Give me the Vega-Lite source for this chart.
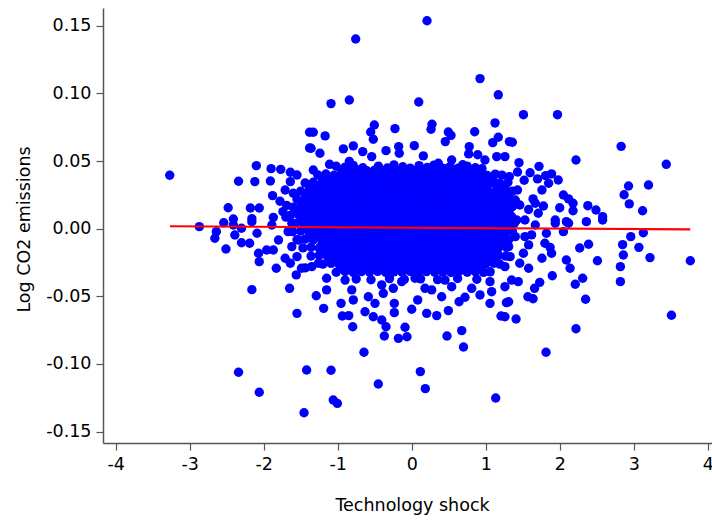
{
  "$schema": "https://vega.github.io/schema/vega-lite/v6.json",
  "width": 609,
  "height": 435,
  "autosize": {"type": "none"},
  "padding": {"left": 103, "top": 8, "right": 0, "bottom": 80},
  "background": "white",
  "config": {
    "view": {"stroke": null},
    "axis": {
      "grid": false,
      "domainColor": "#555555",
      "domainWidth": 1.5,
      "tickColor": "#555555",
      "tickWidth": 1.2,
      "tickSize": 7,
      "labelFont": "DejaVu Sans",
      "labelFontSize": 17.5,
      "labelColor": "#000000",
      "labelFlush": false,
      "labelOverlap": false,
      "titleFont": "DejaVu Sans",
      "titleFontSize": 17.5,
      "titleFontWeight": "normal",
      "titleColor": "#000000"
    }
  },
  "datasets": {
    "shocks": [
      {"x":-3.27,"y":0.0395},{"x":-2.10,"y":0.0466},{"x":-1.90,"y":0.0444},{"x":-1.77,"y":0.0439},{"x":-1.64,"y":0.0417},
      {"x":-1.55,"y":0.0397},{"x":-2.34,"y":0.0351},{"x":-2.12,"y":0.0348},{"x":-1.91,"y":0.0353},{"x":-1.64,"y":0.0348},
      {"x":-1.38,"y":0.0713},{"x":-1.38,"y":0.0597},{"x":-2.48,"y":0.0155},{"x":-2.18,"y":0.0153},{"x":-2.06,"y":0.0153},
      {"x":-2.16,"y":0.0074},{"x":-2.41,"y":0.0072},{"x":-2.54,"y":0.0044},{"x":-2.87,"y":0.0015},{"x":-1.88,"y":0.0244},
      {"x":-1.78,"y":0.0203},{"x":-1.71,"y":0.0286},{"x":-1.60,"y":0.0262},{"x":-1.87,"y":0.0084},{"x":-1.74,"y":0.0126},
      {"x":-2.64,"y":-0.0022},{"x":-2.66,"y":-0.0071},{"x":-2.51,"y":-0.0150},{"x":-2.41,"y":0.0027},{"x":-2.30,"y":0.0003},
      {"x":-2.39,"y":-0.0047},{"x":-2.30,"y":-0.0104},{"x":-2.19,"y":-0.0108},{"x":-2.09,"y":-0.0034},{"x":-2.16,"y":0.0052},
      {"x":-1.89,"y":0.0027},{"x":-2.07,"y":-0.0182},{"x":-2.06,"y":-0.0244},{"x":-1.96,"y":-0.0158},{"x":-1.87,"y":-0.0158},
      {"x":-1.80,"y":-0.0084},{"x":-1.71,"y":-0.0219},{"x":-1.83,"y":-0.0293},{"x":-1.56,"y":-0.0342},{"x":-1.49,"y":-0.0293},
      {"x":-1.64,"y":-0.0256},{"x":-1.55,"y":-0.0207},{"x":-1.62,"y":-0.0133},{"x":-1.53,"y":-0.0084},{"x":-1.67,"y":-0.0022},
      {"x":-1.62,"y":0.0040},{"x":-2.16,"y":-0.0451},{"x":-1.65,"y":-0.0441},{"x":-1.55,"y":-0.0626},{"x":-2.34,"y":-0.1062},
      {"x":-2.06,"y":-0.1210},{"x":-1.455,"y":-0.1361},{"x":-1.42,"y":-0.1045},{"x":-1.09,"y":-0.1047},{"x":-1.06,"y":-0.1267},
      {"x":-1.005,"y":-0.1292},{"x":-0.451,"y":-0.1149},{"x":0.117,"y":-0.1057},{"x":0.184,"y":-0.1183},{"x":1.135,"y":-0.1252},
      {"x":-0.645,"y":-0.0914},{"x":-0.37,"y":-0.0794},{"x":-0.18,"y":-0.0811},{"x":-0.064,"y":-0.0799},{"x":-0.09,"y":-0.0729},
      {"x":-0.347,"y":-0.0725},{"x":0.477,"y":-0.0794},{"x":0.70,"y":-0.0875},{"x":0.676,"y":-0.0754},{"x":-0.797,"y":-0.0725},
      {"x":-0.938,"y":-0.0646},{"x":-0.851,"y":-0.0643},{"x":-1.19,"y":-0.0589},{"x":-1.29,"y":-0.0496},{"x":-0.955,"y":-0.0552},
      {"x":-0.631,"y":-0.0614},{"x":-0.519,"y":-0.0651},{"x":-0.405,"y":-0.0675},{"x":-0.235,"y":-0.0621},{"x":-0.235,"y":-0.0552},
      {"x":0.0,"y":-0.0596},{"x":0.081,"y":-0.0527},{"x":0.203,"y":-0.0626},{"x":0.338,"y":-0.0643},{"x":0.495,"y":-0.0606},
      {"x":0.64,"y":-0.0540},{"x":0.72,"y":-0.0507},{"x":0.923,"y":-0.0490},{"x":1.058,"y":-0.0552},{"x":1.207,"y":-0.0646},
      {"x":1.28,"y":-0.0547},{"x":1.058,"y":-0.0392},{"x":0.81,"y":-0.0441},{"x":-1.15,"y":-0.0367},{"x":-1.15,"y":-0.0453},
      {"x":-0.90,"y":-0.0380},{"x":-0.81,"y":-0.0453},{"x":-0.789,"y":-0.0527},{"x":-0.586,"y":-0.0503},{"x":-0.496,"y":-0.0552},
      {"x":-0.249,"y":-0.0441},{"x":-0.384,"y":-0.0478},{"x":0.045,"y":-0.0367},{"x":0.27,"y":-0.0453},{"x":0.405,"y":-0.0503},
      {"x":0.54,"y":-0.0429},{"x":-1.35,"y":-0.0281},{"x":-1.26,"y":-0.0256},{"x":-1.44,"y":-0.0290},{"x":-1.01,"y":-0.0195},
      {"x":-0.72,"y":-0.0281},{"x":-0.405,"y":-0.0416},{"x":-0.135,"y":-0.0392},{"x":0.18,"y":-0.0441},{"x":0.45,"y":-0.0380},
      {"x":1.26,"y":-0.0429},{"x":1.08,"y":-0.0466},
      {"x":0.207,"y":0.1538},{"x":-0.757,"y":0.1403},{"x":0.923,"y":0.1110},{"x":1.17,"y":0.0990},{"x":-1.09,"y":0.0925},
      {"x":-0.843,"y":0.0952},{"x":0.095,"y":0.0937},{"x":-1.33,"y":0.0713},{"x":-1.17,"y":0.0686},{"x":-1.36,"y":0.0595},
      {"x":-0.505,"y":0.0767},{"x":-0.554,"y":0.0715},{"x":-0.519,"y":0.0661},{"x":-0.226,"y":0.0740},{"x":0.274,"y":0.0772},
      {"x":0.261,"y":0.0735},{"x":0.495,"y":0.0715},{"x":0.531,"y":0.0690},{"x":0.454,"y":0.0644},{"x":0.851,"y":0.0717},
      {"x":1.126,"y":0.0782},{"x":1.17,"y":0.0676},{"x":1.095,"y":0.0636},{"x":1.32,"y":0.0644},{"x":-0.924,"y":0.0590},
      {"x":-0.789,"y":0.0612},{"x":-0.662,"y":0.0570},{"x":-0.347,"y":0.0577},{"x":-0.176,"y":0.0607},{"x":0.035,"y":0.0614},
      {"x":0.157,"y":0.0538},{"x":0.778,"y":0.0607},{"x":0.77,"y":0.0553},{"x":0.892,"y":0.0547},{"x":-1.24,"y":0.0558},
      {"x":-1.11,"y":0.0476},{"x":-0.843,"y":0.0498},{"x":-0.541,"y":0.0533},{"x":-0.168,"y":0.0558},{"x":0.36,"y":0.0484},
      {"x":0.54,"y":0.0508},{"x":0.689,"y":0.0473},{"x":0.99,"y":0.0508},{"x":1.149,"y":0.0533},{"x":1.26,"y":0.0533},
      {"x":1.01,"y":0.0303},{"x":-1.33,"y":0.0434},
      {"x":1.51,"y":0.0843},{"x":1.97,"y":0.0843},{"x":1.36,"y":0.0639},{"x":2.83,"y":0.0609},{"x":3.44,"y":0.0476},
      {"x":2.22,"y":0.0508},{"x":1.45,"y":0.0488},{"x":1.72,"y":0.0461},{"x":1.43,"y":0.0419},{"x":1.60,"y":0.0414},
      {"x":1.81,"y":0.0392},{"x":1.89,"y":0.0405},{"x":1.98,"y":0.0360},{"x":1.52,"y":0.0358},{"x":1.70,"y":0.0368},
      {"x":1.32,"y":0.0385},{"x":1.85,"y":0.0336},{"x":1.76,"y":0.0286},{"x":1.43,"y":0.0286},{"x":2.05,"y":0.0249},
      {"x":2.12,"y":0.0220},{"x":2.18,"y":0.0188},{"x":1.64,"y":0.0220},{"x":1.67,"y":0.0188},{"x":1.40,"y":0.0212},
      {"x":1.46,"y":0.0175},{"x":1.78,"y":0.0168},{"x":2.00,"y":0.0155},{"x":2.18,"y":0.0133},{"x":2.38,"y":0.0170},
      {"x":2.49,"y":0.0138},{"x":2.58,"y":0.0089},{"x":2.93,"y":0.0316},{"x":3.20,"y":0.0323},{"x":2.87,"y":0.0251},
      {"x":2.94,"y":0.0183},{"x":3.12,"y":0.0133},{"x":2.36,"y":0.0052},{"x":1.71,"y":0.0114},{"x":1.94,"y":0.0064},
      {"x":2.09,"y":0.0052},{"x":1.53,"y":0.0064},{"x":1.35,"y":0.0089},
      {"x":3.13,"y":-0.0030},{"x":2.96,"y":-0.0059},{"x":2.85,"y":-0.0118},{"x":3.07,"y":-0.0138},{"x":3.22,"y":-0.0214},
      {"x":3.765,"y":-0.0237},{"x":2.86,"y":-0.0195},{"x":2.82,"y":-0.0281},{"x":2.82,"y":-0.0392},{"x":3.51,"y":-0.0640},
      {"x":2.51,"y":-0.0237},{"x":2.39,"y":-0.0115},{"x":2.27,"y":-0.0143},{"x":2.58,"y":0.0064},{"x":2.09,"y":-0.0232},
      {"x":2.14,"y":-0.0293},{"x":2.31,"y":-0.0367},{"x":2.21,"y":-0.0411},{"x":2.35,"y":-0.0522},{"x":2.22,"y":-0.0740},
      {"x":1.815,"y":-0.0914},{"x":1.41,"y":-0.0668},{"x":1.90,"y":-0.0348},{"x":1.73,"y":-0.0397},{"x":1.66,"y":-0.0441},
      {"x":1.57,"y":-0.0503},{"x":1.64,"y":-0.0518},{"x":1.31,"y":-0.0540},{"x":1.26,"y":-0.0651},{"x":1.76,"y":-0.0219},
      {"x":1.89,"y":-0.0182},{"x":1.80,"y":-0.0108},{"x":1.87,"y":-0.0138},{"x":1.58,"y":-0.0120},{"x":1.51,"y":-0.0182},
      {"x":1.46,"y":-0.0256},{"x":1.58,"y":-0.0293},{"x":1.44,"y":-0.0392},{"x":1.35,"y":-0.0380},{"x":1.26,"y":-0.0281},
      {"x":1.33,"y":-0.0207},{"x":1.82,"y":-0.0034},{"x":2.05,"y":-0.0022},{"x":2.12,"y":0.0040},{"x":1.94,"y":0.0040},
      {"x":1.67,"y":0.0027},{"x":1.40,"y":-0.0059},{"x":1.53,"y":-0.0059},{"x":1.31,"y":-0.0133},{"x":1.42,"y":0.0064},
      {"x":1.58,"y":0.0142},{"x":1.62,"y":-0.0046},{"x":-1.70,"y":0.0085},{"x":-1.69,"y":0.0172},
      {"x":-1.02,"y":0.0462},{"x":-0.90,"y":0.0455},{"x":-0.79,"y":0.0468},{"x":-0.66,"y":0.0451},{"x":-0.45,"y":0.0463},
      {"x":-0.33,"y":0.0449},{"x":-0.24,"y":0.0472},{"x":-0.12,"y":0.0458},{"x":-0.02,"y":0.0447},{"x":0.10,"y":0.0466},
      {"x":0.21,"y":0.0452},{"x":0.30,"y":0.0470},{"x":0.43,"y":0.0446},{"x":0.52,"y":0.0459},{"x":0.63,"y":0.0448},
      {"x":0.75,"y":0.0463},{"x":0.86,"y":0.0451},{"x":0.95,"y":0.0444},
      {"x":-1.27,"y":0.0398},{"x":-1.16,"y":0.0404},{"x":-1.05,"y":0.0395},{"x":-0.95,"y":0.0407},{"x":-0.84,"y":0.0399},
      {"x":-0.72,"y":0.0403},{"x":-0.62,"y":0.0394},{"x":-0.51,"y":0.0406},{"x":-0.40,"y":0.0397},{"x":-0.29,"y":0.0402},
      {"x":-0.18,"y":0.0409},{"x":-0.07,"y":0.0396},{"x":0.04,"y":0.0401},{"x":0.15,"y":0.0393},{"x":0.26,"y":0.0405},
      {"x":0.37,"y":0.0398},{"x":0.48,"y":0.0402},{"x":0.58,"y":0.0395},{"x":0.69,"y":0.0404},{"x":0.80,"y":0.0397},
      {"x":0.91,"y":0.0401},{"x":1.02,"y":0.0394},{"x":1.13,"y":0.0403},{"x":1.22,"y":0.0396},
      {"x":-1.44,"y":0.0338},{"x":-1.33,"y":0.0343},{"x":-1.21,"y":0.0336},{"x":-1.10,"y":0.0345},{"x":-1.00,"y":0.0339},
      {"x":-0.89,"y":0.0342},{"x":-0.78,"y":0.0335},{"x":-0.67,"y":0.0344},{"x":-0.56,"y":0.0338},{"x":-0.45,"y":0.0341},
      {"x":-0.34,"y":0.0334},{"x":-0.23,"y":0.0343},{"x":-0.12,"y":0.0337},{"x":-0.01,"y":0.0342},{"x":0.10,"y":0.0336},
      {"x":0.21,"y":0.0344},{"x":0.32,"y":0.0339},{"x":0.43,"y":0.0341},{"x":0.53,"y":0.0335},{"x":0.64,"y":0.0343},
      {"x":0.75,"y":0.0338},{"x":0.86,"y":0.0342},{"x":0.97,"y":0.0336},{"x":1.08,"y":0.0341},{"x":1.19,"y":0.0337},
      {"x":1.30,"y":0.0343},
      {"x":-1.50,"y":0.0278},{"x":-1.38,"y":0.0283},{"x":-1.27,"y":0.0276},{"x":-1.16,"y":0.0282},{"x":-1.05,"y":0.0279},
      {"x":-0.95,"y":0.0284},{"x":-0.84,"y":0.0277},{"x":-0.73,"y":0.0281},{"x":-0.62,"y":0.0275},{"x":-0.51,"y":0.0283},
      {"x":-0.40,"y":0.0278},{"x":-0.29,"y":0.0282},{"x":-0.18,"y":0.0276},{"x":-0.07,"y":0.0284},{"x":0.04,"y":0.0279},
      {"x":0.15,"y":0.0281},{"x":0.26,"y":0.0277},{"x":0.37,"y":0.0283},{"x":0.48,"y":0.0278},{"x":0.59,"y":0.0282},
      {"x":0.70,"y":0.0276},{"x":0.81,"y":0.0281},{"x":0.92,"y":0.0279},{"x":1.03,"y":0.0284},{"x":1.14,"y":0.0277},
      {"x":1.25,"y":0.0282},{"x":1.36,"y":0.0278},
      {"x":-1.55,"y":0.0218},{"x":-1.44,"y":0.0223},{"x":-1.33,"y":0.0217},{"x":-1.22,"y":0.0222},{"x":-1.11,"y":0.0219},
      {"x":-1.00,"y":0.0224},{"x":-0.89,"y":0.0216},{"x":-0.78,"y":0.0221},{"x":-0.67,"y":0.0218},{"x":-0.56,"y":0.0223},
      {"x":-0.45,"y":0.0217},{"x":-0.34,"y":0.0222},{"x":-0.23,"y":0.0219},{"x":-0.12,"y":0.0221},{"x":-0.01,"y":0.0216},
      {"x":0.10,"y":0.0223},{"x":0.21,"y":0.0218},{"x":0.32,"y":0.0222},{"x":0.43,"y":0.0217},{"x":0.54,"y":0.0221},
      {"x":0.65,"y":0.0219},{"x":0.76,"y":0.0224},{"x":0.87,"y":0.0218},{"x":0.98,"y":0.0221},{"x":1.09,"y":0.0217},
      {"x":1.20,"y":0.0222},{"x":1.31,"y":0.0219},
      {"x":-1.60,"y":0.0158},{"x":-1.49,"y":0.0163},{"x":-1.38,"y":0.0157},{"x":-1.27,"y":0.0162},{"x":-1.16,"y":0.0159},
      {"x":-1.05,"y":0.0164},{"x":-0.95,"y":0.0156},{"x":-0.84,"y":0.0161},{"x":-0.73,"y":0.0158},{"x":-0.62,"y":0.0163},
      {"x":-0.51,"y":0.0157},{"x":-0.40,"y":0.0162},{"x":-0.29,"y":0.0159},{"x":-0.18,"y":0.0161},{"x":-0.07,"y":0.0156},
      {"x":0.04,"y":0.0163},{"x":0.15,"y":0.0158},{"x":0.26,"y":0.0162},{"x":0.37,"y":0.0157},{"x":0.48,"y":0.0161},
      {"x":0.59,"y":0.0159},{"x":0.70,"y":0.0164},{"x":0.81,"y":0.0158},{"x":0.92,"y":0.0161},{"x":1.03,"y":0.0157},
      {"x":1.14,"y":0.0162},{"x":1.25,"y":0.0159},{"x":1.36,"y":0.0163},
      {"x":-1.64,"y":0.0098},{"x":-1.53,"y":0.0103},{"x":-1.42,"y":0.0097},{"x":-1.31,"y":0.0102},{"x":-1.20,"y":0.0099},
      {"x":-1.09,"y":0.0104},{"x":-0.98,"y":0.0096},{"x":-0.87,"y":0.0101},{"x":-0.76,"y":0.0098},{"x":-0.65,"y":0.0103},
      {"x":-0.54,"y":0.0097},{"x":-0.43,"y":0.0102},{"x":-0.32,"y":0.0099},{"x":-0.21,"y":0.0101},{"x":-0.10,"y":0.0096},
      {"x":0.01,"y":0.0103},{"x":0.12,"y":0.0098},{"x":0.23,"y":0.0102},{"x":0.34,"y":0.0097},{"x":0.45,"y":0.0101},
      {"x":0.56,"y":0.0099},{"x":0.67,"y":0.0104},{"x":0.78,"y":0.0098},{"x":0.89,"y":0.0101},{"x":1.00,"y":0.0097},
      {"x":1.11,"y":0.0102},{"x":1.22,"y":0.0099},{"x":1.33,"y":0.0103},
      {"x":-1.58,"y":0.0038},{"x":-1.47,"y":0.0043},{"x":-1.36,"y":0.0037},{"x":-1.25,"y":0.0042},{"x":-1.14,"y":0.0039},
      {"x":-1.03,"y":0.0044},{"x":-0.92,"y":0.0036},{"x":-0.81,"y":0.0041},{"x":-0.70,"y":0.0038},{"x":-0.59,"y":0.0043},
      {"x":-0.48,"y":0.0037},{"x":-0.37,"y":0.0042},{"x":-0.26,"y":0.0039},{"x":-0.15,"y":0.0041},{"x":-0.04,"y":0.0036},
      {"x":0.07,"y":0.0043},{"x":0.18,"y":0.0038},{"x":0.29,"y":0.0042},{"x":0.40,"y":0.0037},{"x":0.51,"y":0.0041},
      {"x":0.62,"y":0.0039},{"x":0.73,"y":0.0044},{"x":0.84,"y":0.0038},{"x":0.95,"y":0.0041},{"x":1.06,"y":0.0037},
      {"x":1.17,"y":0.0042},{"x":1.28,"y":0.0039},{"x":1.39,"y":0.0043},
      {"x":-1.61,"y":-0.0022},{"x":-1.50,"y":-0.0017},{"x":-1.39,"y":-0.0023},{"x":-1.28,"y":-0.0018},{"x":-1.17,"y":-0.0021},
      {"x":-1.06,"y":-0.0016},{"x":-0.95,"y":-0.0024},{"x":-0.84,"y":-0.0019},{"x":-0.73,"y":-0.0022},{"x":-0.62,"y":-0.0017},
      {"x":-0.51,"y":-0.0023},{"x":-0.40,"y":-0.0018},{"x":-0.29,"y":-0.0021},{"x":-0.18,"y":-0.0019},{"x":-0.07,"y":-0.0024},
      {"x":0.04,"y":-0.0017},{"x":0.15,"y":-0.0022},{"x":0.26,"y":-0.0018},{"x":0.37,"y":-0.0023},{"x":0.48,"y":-0.0019},
      {"x":0.59,"y":-0.0021},{"x":0.70,"y":-0.0016},{"x":0.81,"y":-0.0022},{"x":0.92,"y":-0.0019},{"x":1.03,"y":-0.0023},
      {"x":1.14,"y":-0.0018},{"x":1.25,"y":-0.0021},{"x":1.36,"y":-0.0017},
      {"x":-1.55,"y":-0.0082},{"x":-1.44,"y":-0.0077},{"x":-1.33,"y":-0.0083},{"x":-1.22,"y":-0.0078},{"x":-1.11,"y":-0.0081},
      {"x":-1.00,"y":-0.0076},{"x":-0.89,"y":-0.0084},{"x":-0.78,"y":-0.0079},{"x":-0.67,"y":-0.0082},{"x":-0.56,"y":-0.0077},
      {"x":-0.45,"y":-0.0083},{"x":-0.34,"y":-0.0078},{"x":-0.23,"y":-0.0081},{"x":-0.12,"y":-0.0079},{"x":-0.01,"y":-0.0084},
      {"x":0.10,"y":-0.0077},{"x":0.21,"y":-0.0082},{"x":0.32,"y":-0.0078},{"x":0.43,"y":-0.0083},{"x":0.54,"y":-0.0079},
      {"x":0.65,"y":-0.0081},{"x":0.76,"y":-0.0076},{"x":0.87,"y":-0.0082},{"x":0.98,"y":-0.0079},{"x":1.09,"y":-0.0083},
      {"x":1.20,"y":-0.0078},{"x":1.31,"y":-0.0081},
      {"x":-1.47,"y":-0.0142},{"x":-1.36,"y":-0.0137},{"x":-1.25,"y":-0.0143},{"x":-1.14,"y":-0.0138},{"x":-1.03,"y":-0.0141},
      {"x":-0.92,"y":-0.0136},{"x":-0.81,"y":-0.0144},{"x":-0.70,"y":-0.0139},{"x":-0.59,"y":-0.0142},{"x":-0.48,"y":-0.0137},
      {"x":-0.37,"y":-0.0143},{"x":-0.26,"y":-0.0138},{"x":-0.15,"y":-0.0141},{"x":-0.04,"y":-0.0139},{"x":0.07,"y":-0.0144},
      {"x":0.18,"y":-0.0137},{"x":0.29,"y":-0.0142},{"x":0.40,"y":-0.0138},{"x":0.51,"y":-0.0143},{"x":0.62,"y":-0.0139},
      {"x":0.73,"y":-0.0141},{"x":0.84,"y":-0.0136},{"x":0.95,"y":-0.0142},{"x":1.06,"y":-0.0139},{"x":1.17,"y":-0.0143},
      {"x":1.28,"y":-0.0138},
      {"x":-1.36,"y":-0.0202},{"x":-1.25,"y":-0.0197},{"x":-1.14,"y":-0.0203},{"x":-1.03,"y":-0.0198},{"x":-0.92,"y":-0.0201},
      {"x":-0.81,"y":-0.0196},{"x":-0.70,"y":-0.0204},{"x":-0.59,"y":-0.0199},{"x":-0.48,"y":-0.0202},{"x":-0.37,"y":-0.0197},
      {"x":-0.26,"y":-0.0203},{"x":-0.15,"y":-0.0198},{"x":-0.04,"y":-0.0201},{"x":0.07,"y":-0.0199},{"x":0.18,"y":-0.0204},
      {"x":0.29,"y":-0.0197},{"x":0.40,"y":-0.0202},{"x":0.51,"y":-0.0198},{"x":0.62,"y":-0.0203},{"x":0.73,"y":-0.0199},
      {"x":0.84,"y":-0.0201},{"x":0.95,"y":-0.0196},{"x":1.06,"y":-0.0202},{"x":1.17,"y":-0.0199},{"x":1.27,"y":-0.0203},
      {"x":-1.20,"y":-0.0262},{"x":-1.09,"y":-0.0257},{"x":-0.98,"y":-0.0263},{"x":-0.87,"y":-0.0258},{"x":-0.76,"y":-0.0261},
      {"x":-0.65,"y":-0.0256},{"x":-0.54,"y":-0.0264},{"x":-0.43,"y":-0.0259},{"x":-0.32,"y":-0.0262},{"x":-0.21,"y":-0.0257},
      {"x":-0.10,"y":-0.0263},{"x":0.01,"y":-0.0258},{"x":0.12,"y":-0.0261},{"x":0.23,"y":-0.0259},{"x":0.34,"y":-0.0264},
      {"x":0.45,"y":-0.0257},{"x":0.56,"y":-0.0262},{"x":0.67,"y":-0.0258},{"x":0.78,"y":-0.0263},{"x":0.89,"y":-0.0259},
      {"x":1.00,"y":-0.0261},{"x":1.11,"y":-0.0256},{"x":1.19,"y":-0.0262},
      {"x":-1.02,"y":-0.0322},{"x":-0.90,"y":-0.0317},{"x":-0.79,"y":-0.0323},{"x":-0.68,"y":-0.0318},{"x":-0.57,"y":-0.0321},
      {"x":-0.46,"y":-0.0316},{"x":-0.35,"y":-0.0324},{"x":-0.24,"y":-0.0319},{"x":-0.13,"y":-0.0322},{"x":-0.02,"y":-0.0317},
      {"x":0.09,"y":-0.0323},{"x":0.20,"y":-0.0318},{"x":0.31,"y":-0.0321},{"x":0.42,"y":-0.0319},{"x":0.53,"y":-0.0324},
      {"x":0.64,"y":-0.0317},{"x":0.75,"y":-0.0322},{"x":0.86,"y":-0.0318},{"x":0.97,"y":-0.0323},{"x":1.06,"y":-0.0319},
      {"x":-0.75,"y":-0.0372},{"x":-0.55,"y":-0.0378},{"x":-0.30,"y":-0.0369},{"x":-0.10,"y":-0.0375},{"x":0.12,"y":-0.0371},
      {"x":0.35,"y":-0.0377},{"x":0.62,"y":-0.0368},{"x":0.88,"y":-0.0374},
      {"x":-0.94,"y":0.0432},{"x":-0.83,"y":0.0427},{"x":-0.72,"y":0.0434},{"x":-0.61,"y":0.0429},{"x":-0.50,"y":0.0433},
      {"x":-0.39,"y":0.0428},{"x":-0.28,"y":0.0431},{"x":-0.17,"y":0.0426},{"x":-0.06,"y":0.0433},{"x":0.05,"y":0.0429},
      {"x":0.16,"y":0.0432},{"x":0.27,"y":0.0427},{"x":0.38,"y":0.0431},{"x":0.49,"y":0.0428},{"x":0.60,"y":0.0434},
      {"x":0.71,"y":0.0429},{"x":0.82,"y":0.0431},
      {"x":-1.21,"y":0.0372},{"x":-1.10,"y":0.0367},{"x":-0.99,"y":0.0373},{"x":-0.88,"y":0.0368},{"x":-0.77,"y":0.0371},
      {"x":-0.66,"y":0.0366},{"x":-0.55,"y":0.0374},{"x":-0.44,"y":0.0369},{"x":-0.335,"y":0.0372},{"x":-0.225,"y":0.0367},
      {"x":-0.115,"y":0.0373},{"x":-0.005,"y":0.0368},{"x":0.105,"y":0.0371},{"x":0.215,"y":0.0369},{"x":0.325,"y":0.0374},
      {"x":0.435,"y":0.0367},{"x":0.545,"y":0.0372},{"x":0.655,"y":0.0368},{"x":0.765,"y":0.0373},{"x":0.875,"y":0.0369},
      {"x":0.985,"y":0.0371},{"x":1.095,"y":0.0366},
      {"x":-1.38,"y":0.0312},{"x":-1.27,"y":0.0307},{"x":-1.16,"y":0.0313},{"x":-1.05,"y":0.0308},{"x":-0.94,"y":0.0311},
      {"x":-0.83,"y":0.0306},{"x":-0.72,"y":0.0314},{"x":-0.61,"y":0.0309},{"x":-0.50,"y":0.0312},{"x":-0.39,"y":0.0307},
      {"x":-0.28,"y":0.0313},{"x":-0.17,"y":0.0308},{"x":-0.06,"y":0.0311},{"x":0.05,"y":0.0309},{"x":0.16,"y":0.0314},
      {"x":0.27,"y":0.0307},{"x":0.38,"y":0.0312},{"x":0.49,"y":0.0308},{"x":0.60,"y":0.0313},{"x":0.71,"y":0.0309},
      {"x":0.82,"y":0.0311},{"x":0.93,"y":0.0306},{"x":1.15,"y":0.0312},{"x":1.26,"y":0.0308},
      {"x":-1.43,"y":0.0252},{"x":-1.32,"y":0.0247},{"x":-1.21,"y":0.0253},{"x":-1.10,"y":0.0248},{"x":-0.99,"y":0.0251},
      {"x":-0.88,"y":0.0246},{"x":-0.77,"y":0.0254},{"x":-0.66,"y":0.0249},{"x":-0.55,"y":0.0252},{"x":-0.44,"y":0.0247},
      {"x":-0.335,"y":0.0253},{"x":-0.225,"y":0.0248},{"x":-0.115,"y":0.0251},{"x":-0.005,"y":0.0249},{"x":0.105,"y":0.0254},
      {"x":0.215,"y":0.0247},{"x":0.325,"y":0.0252},{"x":0.435,"y":0.0248},{"x":0.545,"y":0.0253},{"x":0.655,"y":0.0249},
      {"x":0.765,"y":0.0251},{"x":0.875,"y":0.0246},{"x":0.985,"y":0.0252},{"x":1.095,"y":0.0249},{"x":1.20,"y":0.0253},
      {"x":1.31,"y":0.0248},
      {"x":-1.49,"y":0.0192},{"x":-1.38,"y":0.0187},{"x":-1.27,"y":0.0193},{"x":-1.16,"y":0.0188},{"x":-1.05,"y":0.0191},
      {"x":-0.94,"y":0.0186},{"x":-0.83,"y":0.0194},{"x":-0.72,"y":0.0189},{"x":-0.61,"y":0.0192},{"x":-0.50,"y":0.0187},
      {"x":-0.39,"y":0.0193},{"x":-0.28,"y":0.0188},{"x":-0.17,"y":0.0191},{"x":-0.06,"y":0.0189},{"x":0.05,"y":0.0194},
      {"x":0.16,"y":0.0187},{"x":0.27,"y":0.0192},{"x":0.38,"y":0.0188},{"x":0.49,"y":0.0193},{"x":0.60,"y":0.0189},
      {"x":0.71,"y":0.0191},{"x":0.82,"y":0.0186},{"x":0.93,"y":0.0192},{"x":1.04,"y":0.0189},{"x":1.15,"y":0.0193},
      {"x":1.26,"y":0.0188},
      {"x":-1.54,"y":0.0132},{"x":-1.43,"y":0.0127},{"x":-1.32,"y":0.0133},{"x":-1.21,"y":0.0128},{"x":-1.10,"y":0.0131},
      {"x":-0.99,"y":0.0126},{"x":-0.88,"y":0.0134},{"x":-0.77,"y":0.0129},{"x":-0.66,"y":0.0132},{"x":-0.55,"y":0.0127},
      {"x":-0.44,"y":0.0133},{"x":-0.335,"y":0.0128},{"x":-0.225,"y":0.0131},{"x":-0.115,"y":0.0129},{"x":-0.005,"y":0.0134},
      {"x":0.105,"y":0.0127},{"x":0.215,"y":0.0132},{"x":0.325,"y":0.0128},{"x":0.435,"y":0.0133},{"x":0.545,"y":0.0129},
      {"x":0.655,"y":0.0131},{"x":0.765,"y":0.0126},{"x":0.875,"y":0.0132},{"x":0.985,"y":0.0129},{"x":1.095,"y":0.0133},
      {"x":1.20,"y":0.0128},{"x":1.31,"y":0.0131},
      {"x":-1.49,"y":0.0072},{"x":-1.38,"y":0.0067},{"x":-1.27,"y":0.0073},{"x":-1.16,"y":0.0068},{"x":-1.05,"y":0.0071},
      {"x":-0.94,"y":0.0066},{"x":-0.83,"y":0.0074},{"x":-0.72,"y":0.0069},{"x":-0.61,"y":0.0072},{"x":-0.50,"y":0.0067},
      {"x":-0.39,"y":0.0073},{"x":-0.28,"y":0.0068},{"x":-0.17,"y":0.0071},{"x":-0.06,"y":0.0069},{"x":0.05,"y":0.0074},
      {"x":0.16,"y":0.0067},{"x":0.27,"y":0.0072},{"x":0.38,"y":0.0068},{"x":0.49,"y":0.0073},{"x":0.60,"y":0.0069},
      {"x":0.71,"y":0.0071},{"x":0.82,"y":0.0066},{"x":0.93,"y":0.0072},{"x":1.04,"y":0.0069},{"x":1.15,"y":0.0073},
      {"x":1.26,"y":0.0068},
      {"x":-1.43,"y":0.0012},{"x":-1.32,"y":0.0007},{"x":-1.21,"y":0.0013},{"x":-1.10,"y":0.0008},{"x":-0.99,"y":0.0011},
      {"x":-0.88,"y":0.0006},{"x":-0.77,"y":0.0014},{"x":-0.66,"y":0.0009},{"x":-0.55,"y":0.0012},{"x":-0.44,"y":0.0007},
      {"x":-0.335,"y":0.0013},{"x":-0.225,"y":0.0008},{"x":-0.115,"y":0.0011},{"x":-0.005,"y":0.0009},{"x":0.105,"y":0.0014},
      {"x":0.215,"y":0.0007},{"x":0.325,"y":0.0012},{"x":0.435,"y":0.0008},{"x":0.545,"y":0.0013},{"x":0.655,"y":0.0009},
      {"x":0.765,"y":0.0011},{"x":0.875,"y":0.0006},{"x":0.985,"y":0.0012},{"x":1.095,"y":0.0009},{"x":1.20,"y":0.0013},
      {"x":1.31,"y":0.0008},
      {"x":-1.38,"y":-0.0048},{"x":-1.27,"y":-0.0053},{"x":-1.16,"y":-0.0047},{"x":-1.05,"y":-0.0052},{"x":-0.94,"y":-0.0049},
      {"x":-0.83,"y":-0.0054},{"x":-0.72,"y":-0.0046},{"x":-0.61,"y":-0.0051},{"x":-0.50,"y":-0.0048},{"x":-0.39,"y":-0.0053},
      {"x":-0.28,"y":-0.0047},{"x":-0.17,"y":-0.0052},{"x":-0.06,"y":-0.0049},{"x":0.05,"y":-0.0051},{"x":0.16,"y":-0.0046},
      {"x":0.27,"y":-0.0053},{"x":0.38,"y":-0.0048},{"x":0.49,"y":-0.0052},{"x":0.60,"y":-0.0047},{"x":0.71,"y":-0.0051},
      {"x":0.82,"y":-0.0049},{"x":0.93,"y":-0.0054},{"x":1.04,"y":-0.0048},{"x":1.15,"y":-0.0051},{"x":1.26,"y":-0.0047},
      {"x":-1.21,"y":-0.0108},{"x":-1.10,"y":-0.0113},{"x":-0.99,"y":-0.0107},{"x":-0.88,"y":-0.0112},{"x":-0.77,"y":-0.0109},
      {"x":-0.66,"y":-0.0114},{"x":-0.55,"y":-0.0106},{"x":-0.44,"y":-0.0111},{"x":-0.335,"y":-0.0108},{"x":-0.225,"y":-0.0113},
      {"x":-0.115,"y":-0.0107},{"x":-0.005,"y":-0.0112},{"x":0.105,"y":-0.0109},{"x":0.215,"y":-0.0111},{"x":0.325,"y":-0.0106},
      {"x":0.435,"y":-0.0113},{"x":0.545,"y":-0.0108},{"x":0.655,"y":-0.0112},{"x":0.765,"y":-0.0107},{"x":0.875,"y":-0.0111},
      {"x":0.985,"y":-0.0109},{"x":1.095,"y":-0.0114},{"x":1.20,"y":-0.0108},
      {"x":-1.16,"y":-0.0168},{"x":-1.05,"y":-0.0173},{"x":-0.94,"y":-0.0167},{"x":-0.83,"y":-0.0172},{"x":-0.72,"y":-0.0169},
      {"x":-0.61,"y":-0.0174},{"x":-0.50,"y":-0.0166},{"x":-0.39,"y":-0.0171},{"x":-0.28,"y":-0.0168},{"x":-0.17,"y":-0.0173},
      {"x":-0.06,"y":-0.0167},{"x":0.05,"y":-0.0172},{"x":0.16,"y":-0.0169},{"x":0.27,"y":-0.0171},{"x":0.38,"y":-0.0166},
      {"x":0.49,"y":-0.0173},{"x":0.60,"y":-0.0168},{"x":0.71,"y":-0.0172},{"x":0.82,"y":-0.0167},{"x":0.93,"y":-0.0171},
      {"x":1.04,"y":-0.0169},{"x":1.15,"y":-0.0174},
      {"x":-1.10,"y":-0.0228},{"x":-0.99,"y":-0.0233},{"x":-0.88,"y":-0.0227},{"x":-0.77,"y":-0.0232},{"x":-0.66,"y":-0.0229},
      {"x":-0.55,"y":-0.0234},{"x":-0.44,"y":-0.0226},{"x":-0.335,"y":-0.0231},{"x":-0.225,"y":-0.0228},{"x":-0.115,"y":-0.0233},
      {"x":-0.005,"y":-0.0227},{"x":0.105,"y":-0.0232},{"x":0.215,"y":-0.0229},{"x":0.325,"y":-0.0231},{"x":0.435,"y":-0.0226},
      {"x":0.545,"y":-0.0233},{"x":0.655,"y":-0.0228},{"x":0.765,"y":-0.0232},{"x":0.875,"y":-0.0227},{"x":0.985,"y":-0.0231},
      {"x":1.095,"y":-0.0229},
      {"x":-0.94,"y":-0.0288},{"x":-0.83,"y":-0.0293},{"x":-0.72,"y":-0.0287},{"x":-0.61,"y":-0.0292},{"x":-0.50,"y":-0.0289},
      {"x":-0.39,"y":-0.0294},{"x":-0.28,"y":-0.0286},{"x":-0.17,"y":-0.0291},{"x":-0.06,"y":-0.0288},{"x":0.05,"y":-0.0293},
      {"x":0.16,"y":-0.0287},{"x":0.27,"y":-0.0292},{"x":0.38,"y":-0.0289},{"x":0.49,"y":-0.0291},{"x":0.60,"y":-0.0286},
      {"x":0.71,"y":-0.0293},{"x":0.82,"y":-0.0288},{"x":0.93,"y":-0.0292}
    ],
    "fit": [
      {"x":-3.266,"y":0.0018},
      {"x":3.765,"y":-0.0005}
    ]
  },
  "layer": [
    {
      "data": {"name": "shocks"},
      "mark": {"type": "circle", "color": "#0000ff", "opacity": 1, "size": 88},
      "encoding": {
        "x": {
          "field": "x",
          "type": "quantitative",
          "scale": {"domain": [-4.1716, 4.058], "nice": false, "zero": false},
          "axis": {
            "title": "Technology shock",
            "values": [-4, -3, -2, -1, 0, 1, 2, 3, 4],
            "labelExpr": "replace(format(datum.value, 'd'), '\u2212', '-')",
            "labelPadding": 5,
            "titlePadding": 24,
            "titleX": 309
          }
        },
        "y": {
          "field": "y",
          "type": "quantitative",
          "scale": {"domain": [-0.1585, 0.1632], "nice": false, "zero": false},
          "axis": {
            "title": "Log CO2 emissions",
            "values": [-0.15, -0.1, -0.05, 0, 0.05, 0.1, 0.15],
            "labelExpr": "replace(format(datum.value, '.2f'), '\u2212', '-')",
            "labelPadding": 5,
            "titlePadding": 12,
            "titleY": 221
          }
        }
      }
    },
    {
      "data": {"name": "fit"},
      "mark": {"type": "line", "color": "#ff0000", "strokeWidth": 2.2},
      "encoding": {
        "x": {"field": "x", "type": "quantitative"},
        "y": {"field": "y", "type": "quantitative"}
      }
    }
  ]
}
